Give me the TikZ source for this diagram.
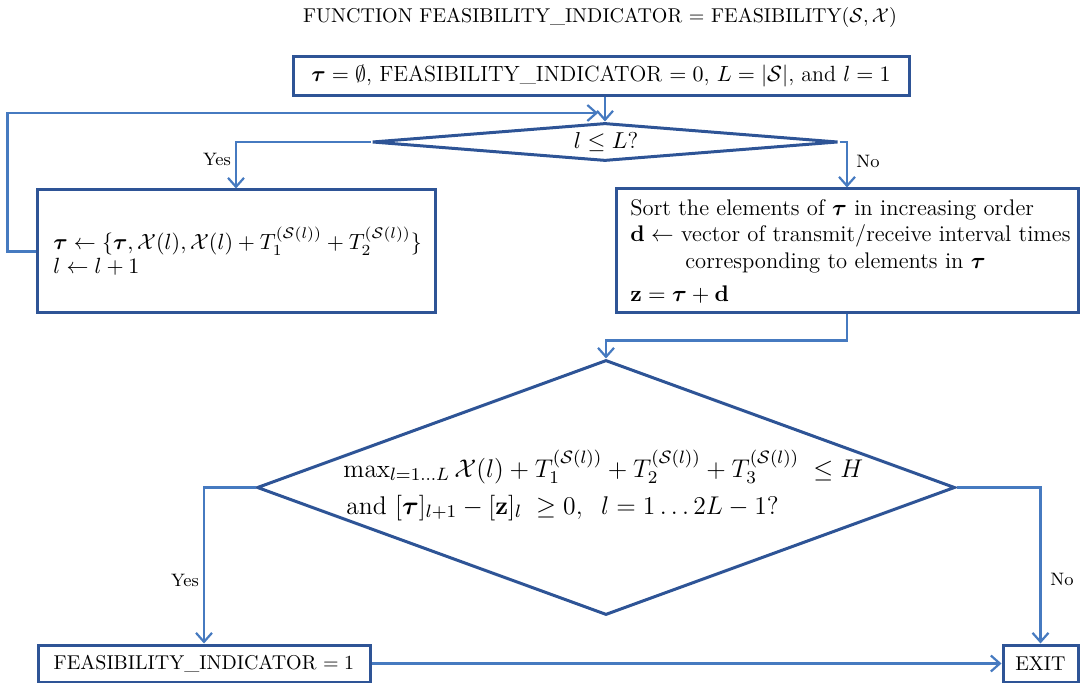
\RequirePackage{fix-cm}
\documentclass[tikz,border=0pt]{standalone}
\usepackage{amsmath,amssymb}
\usetikzlibrary{arrows.meta,shapes.geometric,calc}
\definecolor{boxblue}{RGB}{46,84,150}
\definecolor{linkblue}{RGB}{70,122,192}
\begin{document}
\begin{tikzpicture}[x=0.5pt,y=-0.5pt,
  box/.style={draw=boxblue,line width=1.5pt,rectangle,inner sep=0pt},
  dia/.style={draw=boxblue,line width=1.5pt,shape=diamond,inner sep=0pt},
  link/.style={draw=linkblue,line width=1.2pt,-{Straight Barb[length=4.5pt,width=8pt,line width=1.1pt]}},
  lbl/.style={font=\small,inner sep=0pt},
  txt/.style={inner sep=0pt,anchor=base west}]
\useasboundingbox (0,0) rectangle (1080,683);

% title
\node[inner sep=0pt] (title) at (600,18) {FUNCTION FEASIBILITY\_INDICATOR $=$ FEASIBILITY$(\mathcal{S},\mathcal{X})$};

% init box
\node[box,minimum width=308pt,minimum height=19.5pt,font=\fontsize{11}{13}\selectfont] (init) at (601,76.5)
  {$\boldsymbol{\tau}=\emptyset$, FEASIBILITY\_INDICATOR $=0$, $L=|\mathcal{S}|$, and $l=1$};

% first decision
\node[dia,minimum width=233pt,minimum height=19pt] (d1) at (605,142) {};
\node[inner sep=0pt,font=\fontsize{11.5}{13}\selectfont] (d1t) at (606,142) {$l\le L$?};

% left box
\node[box,minimum width=199pt,minimum height=61.5pt] (lb) at (236,251.5) {};
\node[txt,font=\fontsize{11}{13}\selectfont] (lb1) at (53,250) {$\boldsymbol{\tau}\leftarrow\{\boldsymbol{\tau},\mathcal{X}(l),\mathcal{X}(l)+T_1^{(\mathcal{S}(l))}+T_2^{(\mathcal{S}(l))}\}$};
\node[txt,font=\fontsize{11}{13}\selectfont] (lb2) at (53,274) {$l\leftarrow l+1$};

% right box
\node[box,minimum width=231pt,minimum height=62pt] (rb) at (847,251) {};
\begin{scope}[every node/.append style={font=\fontsize{11.3}{13}\selectfont}]
\node[txt] (rb1) at (630,216) {Sort the elements of $\boldsymbol{\tau}$ in increasing order};
\node[txt] (rb2) at (630,242) {$\mathbf{d}\leftarrow$ vector of transmit/receive interval times};
\node[txt] (rb3) at (685,269) {corresponding to elements in $\boldsymbol{\tau}$};
\node[txt] (rb4) at (630,302) {$\mathbf{z}=\boldsymbol{\tau}+\mathbf{d}$};
\end{scope}

% second decision
\node[dia,minimum width=349pt,minimum height=127.5pt] (d2) at (606,487.5) {};
\begin{scope}[every node/.append style={font=\fontsize{12.8}{15}\selectfont}]
\node[txt] (d2a) at (343,477) {$\max_{l=1\ldots L}\mathcal{X}(l)+T_1^{(\mathcal{S}(l))}+T_2^{(\mathcal{S}(l))}+T_3^{(\mathcal{S}(l))}\;\le H$};
\node[txt] (d2b) at (346,514) {and $[\boldsymbol{\tau}]_{l+1}-[\mathbf{z}]_l\;\ge 0,\;\; l=1\ldots 2L-1$?};
\end{scope}

% bottom boxes
\node[box,minimum width=166pt,minimum height=18.5pt] (bl) at (204,663.5) {FEASIBILITY\_INDICATOR $=1$};
\node[box,minimum width=37.5pt,minimum height=18.5pt] (exit) at (1040.5,663.5) {EXIT};

% connectors
\coordinate (loopend) at (598,113);
\draw[link] (d1.north |- init.south) -- (d1.north);
\draw[link] (d1.west) -| (lb.north);
\draw[link] (d1.east) -| (rb.north);
\draw[link] (lb.west) -- ++(-28,0) |- (loopend);
\draw[link] (rb.south) -- ++(0,26) -| (d2.north);
\draw[link] (d2.west) -| (bl.north);
\draw[link] (d2.east) -| (exit.north);
\draw[link] (bl.east) -- (exit.west);

% labels
\node[lbl] (yes1) at (217,159) {Yes};
\node[lbl] (no1) at (868,161) {No};
\node[lbl] (yes2) at (185,580) {Yes};
\node[lbl] (no2) at (1062,579) {No};
\end{tikzpicture}
\end{document}
